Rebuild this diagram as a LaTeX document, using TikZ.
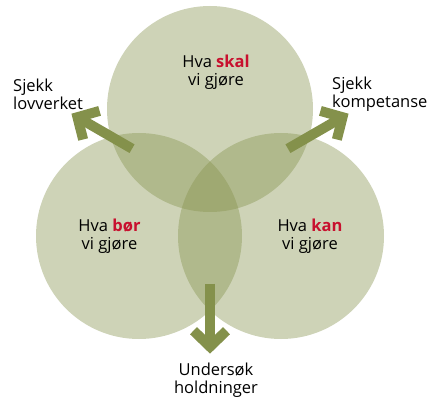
\documentclass[tikz,border=0pt]{standalone}
\usepackage{fontspec}
\setmainfont{Open Sans}
\usetikzlibrary{calc}

\definecolor{olivegreen}{RGB}{132,145,75}
\definecolor{accentred}{RGB}{200,16,46}

\tikzset{
  setdisc/.style={fill=olivegreen, fill opacity=0.4},
  textbox/.style={font=\fontsize{16.5}{18}\selectfont, inner sep=0pt, align=center},
  % A fat arrow pointing along +x: a bar and a chevron head of the same width.
  fatarrow/.pic={
    \draw[olivegreen, line width=10pt] (90,0) -- (154,0);
    \draw[olivegreen, line width=10pt, line join=miter] (137,16.5) -- (153,0) -- (137,-16.5);
  }
}

\begin{document}
\begin{tikzpicture}[x=1pt, y=1pt]
  \useasboundingbox (0,0) rectangle (437,397);
  % Three equal discs, see-through so the overlaps darken.
  \coordinate (top) at (210,288);
  \coordinate (left) at (139,161);
  \coordinate (right) at (281,161);
  \coordinate (mid) at (210,203.3);
  \fill[setdisc] (top) circle (103);
  \fill[setdisc] (left) circle (103);
  \fill[setdisc] (right) circle (103);
  % Arrows leaving the common centre.
  \pic[rotate=150] at (mid) {fatarrow};
  \pic[rotate=30] at (mid) {fatarrow};
  \pic[rotate=270] at (mid) {fatarrow};
  % Texts in the discs.
  \node[textbox] (skal) at (216,325) {Hva \textcolor{accentred}{\textbf{skal}}\\vi gjøre};
  \node[textbox] (bor) at (109.5,161) {Hva \textcolor{accentred}{\textbf{bør}}\\vi gjøre};
  \node[textbox] (kan) at (310,161) {Hva \textcolor{accentred}{\textbf{kan}}\\vi gjøre};
  % Texts at the arrow heads.
  \node[textbox, align=left, anchor=west] (lov) at (13,303) {Sjekk\\lovverket};
  \node[textbox, align=left, anchor=west] (komp) at (332,303) {Sjekk\\kompetanse};
  \node[textbox] (hold) at (216,17) {Undersøk\\holdninger};
\end{tikzpicture}
\end{document}
